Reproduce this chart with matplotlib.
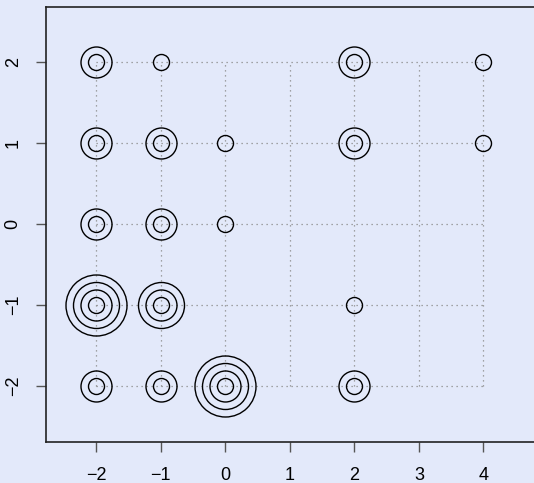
import matplotlib
matplotlib.use("Agg")
import matplotlib.pyplot as plt

plt.rcParams['font.family'] = ['Liberation Sans', 'DejaVu Sans']

# lattice of x/y values and how many observations fall on each node
x_vals = [-2, -1, 0, 1, 2, 3, 4]
y_vals = [2, 1, 0, -1, -2]
counts = [
    [2, 1, 0, 0, 2, 0, 1],   # y = 2
    [2, 2, 1, 0, 2, 0, 1],   # y = 1
    [2, 2, 1, 0, 0, 0, 0],   # y = 0
    [4, 3, 0, 0, 1, 0, 0],   # y = -1
    [2, 2, 4, 0, 2, 0, 0],   # y = -2
]
x_ticks = [-2, -1, 0, 1, 2, 3, 4]
y_ticks = [-2, -1, 0, 1, 2]

bg = '#e3e9fa'
fig = plt.figure(figsize=(5.34, 4.83), dpi=100, facecolor=bg)
ax = fig.add_axes([0.0861, 0.0843, 0.916, 0.9018], facecolor=bg)

# dotted lattice
ax.hlines(y_vals, min(x_vals), max(x_vals), colors='#8a8a8a', linestyles=(0, (1, 3)), lw=0.9, zorder=1)
ax.vlines(x_vals, min(y_vals), max(y_vals), colors='#8a8a8a', linestyles=(0, (1, 3)), lw=0.9, zorder=1)

# one ring per observation, rings grow outward
px2pt = 72 / fig.dpi
for j, yv in enumerate(y_vals):
    for i, xv in enumerate(x_vals):
        for k in range(1, counts[j][i] + 1):
            r = 7.5 * k + 0.5
            ax.plot(xv, yv, 'o', ms=2 * r * px2pt, mfc='none', mec='black', mew=1.0, zorder=2)

ax.set_xlim(-2.775, 4.80)
ax.set_ylim(-2.70, 2.69)
ax.set_xticks(x_ticks)
ax.set_yticks(y_ticks)
ax.set_xticklabels([str(v).replace('-', '\u2212') for v in x_ticks])
ax.set_yticklabels([str(v).replace('-', '\u2212') for v in y_ticks], rotation=90, va='center')

for s in ['left', 'bottom', 'top']:
    ax.spines[s].set_color('#222222')
    ax.spines[s].set_linewidth(1.2)
ax.spines['right'].set_visible(False)
ax.tick_params(axis='both', direction='out', length=7.5, width=1.0, color='#555555', labelsize=13)
ax.tick_params(axis='x', pad=10)
ax.tick_params(axis='y', pad=10)

fig.savefig('out.png', dpi=100, facecolor=bg)
